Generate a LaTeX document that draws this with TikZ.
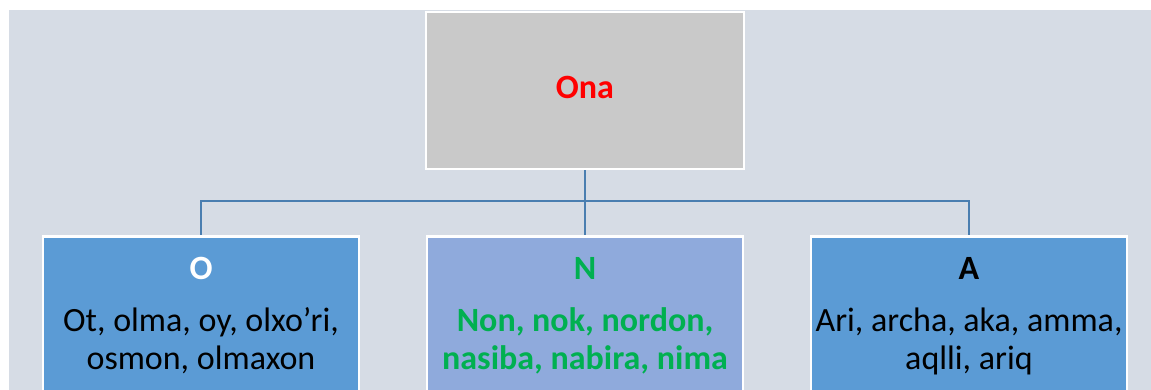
\documentclass[tikz,border=0pt]{standalone}
\usepackage{fontspec}
\setmainfont{Carlito}
\usetikzlibrary{positioning}
\definecolor{bgblue}{HTML}{D6DCE5}
\definecolor{topgray}{HTML}{C9C9C9}
\definecolor{sideblue}{HTML}{5B9BD5}
\definecolor{midblue}{HTML}{8FAADC}
\definecolor{linkblue}{HTML}{4A7EB0}
\definecolor{wordgreen}{HTML}{00B050}
\definecolor{wordred}{HTML}{FF0000}

\begin{document}
\begin{tikzpicture}[x=1pt,y=-1pt,
  box/.style={draw=white,line width=2.5pt,minimum width=316pt,anchor=north,inner sep=0pt},
  head/.style={anchor=base,font=\fontsize{34}{38}\selectfont\bfseries},
  words/.style={anchor=base,align=center,font=\fontsize{34}{38}\selectfont},
  link/.style={draw=linkblue,line width=2pt}]
\useasboundingbox (0,0) rectangle (1151,390);
\clip (0,0) rectangle (1151,390);
\fill[bgblue] (9,10) rectangle (1151,390);
\node[box,fill=topgray,minimum width=318pt,minimum height=157pt] (ona) at (585,11) {};
\node[head,text=wordred] (onat) at ([yshift=-88pt]ona.north) {Ona};
\node[box,fill=sideblue,minimum height=200pt] (o) at (201,235) {};
\node[box,fill=midblue,minimum height=200pt] (n) at (585,235) {};
\node[box,fill=sideblue,minimum height=200pt] (a) at (969,235) {};
\node[head,text=white] (oh) at ([yshift=-44pt]o.north) {O};
\node[head,text=wordgreen] (nh) at ([yshift=-44pt]n.north) {N};
\node[head,text=black] (ah) at ([yshift=-44pt]a.north) {A};
% base of a two-line node is its last line
\node[words] (ow) at ([yshift=-134pt]o.north) {Ot, olma, oy, olxo’ri,\\osmon, olmaxon};
\node[words,text=wordgreen,font=\fontsize{34}{38}\selectfont\bfseries] (nw) at ([yshift=-134pt]n.north) {Non, nok, nordon,\\nasiba, nabira, nima};
\node[words] (aw) at ([yshift=-134pt]a.north) {Ari, archa, aka, amma,\\aqlli, ariq};
\coordinate (bus) at (585,201);
\draw[link] (ona.south) -- (bus);
\draw[link] (bus) -| (o.north);
\draw[link] (bus) -- (n.north);
\draw[link] (bus) -| (a.north);
\end{tikzpicture}
\end{document}
